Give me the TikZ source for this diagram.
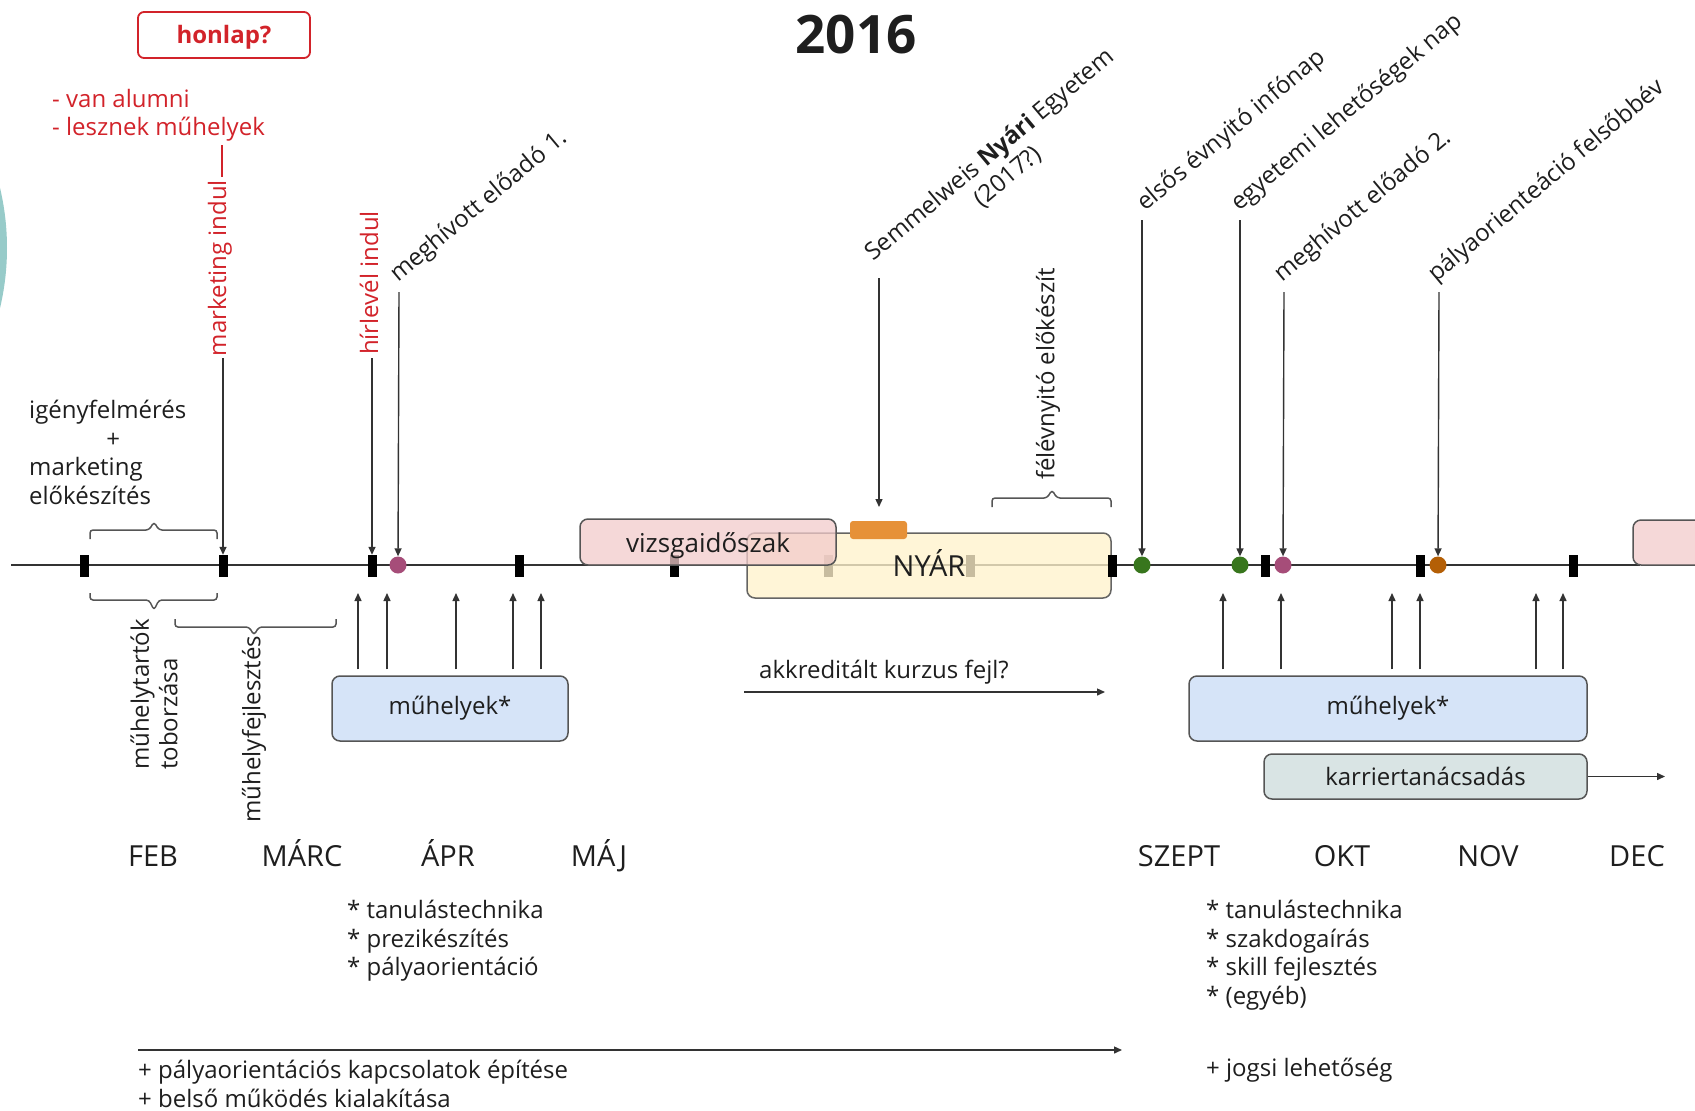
\documentclass[tikz,border=0pt]{standalone}
\usepackage{fontspec}
\setmainfont{Open Sans}
\usetikzlibrary{arrows.meta}
\definecolor{ink}{HTML}{1E1E1E}
\definecolor{lineg}{HTML}{333333}
\definecolor{boxline}{HTML}{555555}
\definecolor{redt}{HTML}{D2232A}
\definecolor{teal}{HTML}{97CBC9}
\definecolor{nyar}{HTML}{FFF2CC}
\definecolor{vizs}{HTML}{F2CBCB}
\definecolor{blueb}{HTML}{D6E4F8}
\definecolor{karr}{HTML}{D9E4E4}
\definecolor{orng}{HTML}{E69138}
\definecolor{dgreen}{HTML}{38761D}
\definecolor{dpink}{HTML}{A64D79}
\definecolor{dorange}{HTML}{B45F06}
\begin{document}
\begin{tikzpicture}[x=1pt,y=-1pt,
  every node/.style={inner sep=0pt, text=ink},
  body/.style={font=\fontsize{24}{28.5}\selectfont},
  month/.style={font=\fontsize{29}{34}\selectfont, anchor=base},
  redtext/.style={body, text=redt},
  arr/.style={draw=lineg, line width=1.4pt, -{Triangle[length=8pt,width=7pt]}},
  tick/.style={rectangle, fill=black, minimum width=9pt, minimum height=22pt},
  dot/.style={circle, minimum size=17pt},
  box/.style={draw=boxline, line width=1.5pt, rounded corners=8pt},
  brace/.style={draw=boxline, line width=1.5pt, rounded corners=3pt}
]
\useasboundingbox (0,0) rectangle (1695,1111);
\begin{scope}
  \clip (0,0) rectangle (1695,1111);
  \fill[teal] (-253,248) circle[radius=260pt];
\end{scope}

% title
\node[font=\fontsize{53}{60}\selectfont\bfseries, anchor=base] (title) at (856,53) {2016};

% honlap box and red notes
\node[draw=redt, line width=1.8pt, rounded corners=6pt, minimum width=172pt, minimum height=46pt,
      font=\fontsize{24}{28}\selectfont\bfseries, text=redt] (honlap) at (224,35) {\raisebox{-8pt}[0pt][0pt]{honlap?}};
\node[redtext, align=left, anchor=north west] (notes) at (52,89) {- van alumni\\- lesznek műhelyek};

% timeline
\coordinate (tlL) at (11,565);
\coordinate (tlR) at (1640,565);
\draw[lineg, line width=2pt] (tlL) -- (tlR);

\foreach \n/\x in {t1/84,t2/223,t3/372,t4/519,t5/674,t6/828,t7/970,t9/1265,t10/1420,t11/1573}
  \node[tick] (\n) at (\x,566) {};

% summer box
\node[box, fill=nyar, fill opacity=.78, draw opacity=.9, text opacity=1, minimum width=364pt, minimum height=65pt,
      font=\fontsize{29}{34}\selectfont] (nyar) at (929,565.5) {\raisebox{-11pt}[0pt][0pt]{NYÁR}};
\node[tick] (t8) at (1112,566) {};
% exam periods
\node[box, fill=vizs, fill opacity=.75, text opacity=1, minimum width=256pt, minimum height=46pt,
      font=\fontsize{26}{30}\selectfont] (vizsga) at (708,542) {\raisebox{-10pt}[0pt][0pt]{vizsgaidőszak}};
\node[box, fill=vizs, fill opacity=.75, minimum width=100pt, minimum height=45pt] (vizsga2) at (1683,542.5) {};
\node[fill=orng, rounded corners=3pt, minimum width=57pt, minimum height=18pt] (orect) at (878.5,530) {};

% dots
\node[dot, fill=dpink] (d1) at (398,565) {};
\node[dot, fill=dgreen] (d2) at (1142,565) {};
\node[dot, fill=dgreen] (d3) at (1240,565) {};
\node[dot, fill=dpink] (d4) at (1283,565) {};
\node[dot, fill=dorange] (d5) at (1438,565) {};

% upper labels
\node[redtext, rotate=90] (mi) at (220,268) {marketing indul};
\node[redtext, rotate=90] (hi) at (369,283) {hírlevél indul};
\node[body, rotate=40, anchor=base west] (me1) at (398,283) {meghívott előadó 1.};
\node[body, rotate=40, align=center] (sem) at (999,166) {Semmelweis \textbf{Nyári} Egyetem\\(2017?)};
\node[body, rotate=90] (fel) at (1048,374) {félévnyitó előkészít};
\node[body, rotate=40, anchor=base west] (els) at (1145,212) {elsős évnyitó infónap};
\node[body, rotate=40, anchor=base west] (egy) at (1239,212) {egyetemi lehetőségek nap};
\node[body, rotate=40, anchor=base west] (me2) at (1282,283) {meghívott előadó 2.};
\node[body, rotate=40, anchor=base west] (pal) at (1436,283) {pályaorienteáció felsőbbév};

% connectors from labels down to timeline
\coordinate (rl1) at (222,145);
\coordinate (rl2) at (222,177);
\draw[redt, line width=1.4pt] (rl1) -- (rl2);
\coordinate (a1) at (223,358);
\coordinate (a2) at (372,358);
\coordinate (a3) at (399,292);
\coordinate (a4) at (879,278);
\coordinate (a4e) at (879,507);
\coordinate (a5) at (1142,220);
\coordinate (a6) at (1240,220);
\coordinate (a7) at (1284,292);
\coordinate (a8) at (1439,292);
\draw[arr] (a1) -- (t2);
\draw[arr] (a2) -- (t3);
\draw[arr] (a3) -- (d1);
\draw[arr] (a4) -- (a4e);
\draw[arr] (a5) -- (d2);
\draw[arr] (a6) -- (d3);
\draw[arr] (a7) -- (d4);
\draw[arr] (a8) -- (d5);

% left texts and braces
\node[body, align=left, anchor=north west] (igeny) at (29,400)
  {igényfelmérés\\\makebox[168pt]{+}\\marketing\\előkészítés};
\draw[brace] (90,539) -- (90,530) -- (149,530) -- (154,522) -- (159,530) -- (217,530) -- (217,539);
\draw[brace] (90,593) -- (90,600) -- (149,600) -- (154,610) -- (159,600) -- (217,600) -- (217,593);
\draw[brace] (175,619) -- (175,627) -- (249,627) -- (254,635) -- (259,627) -- (336,627) -- (336,619);
\draw[brace] (992,507) -- (992,498) -- (1047,498) -- (1052,490) -- (1057,498) -- (1111,498) -- (1111,507);
\node[body, rotate=90, align=left, anchor=west] (tob) at (154,770) {műhelytartók\\toborzása};
\node[body, rotate=90] (fejl) at (254,729) {műhelyfejlesztés};

% workshops
\node[box, fill=blueb, minimum width=236pt, minimum height=65pt, body] (m1) at (450,708.5) {műhelyek*};
\node[box, fill=blueb, minimum width=398pt, minimum height=65pt, body] (m2) at (1388,708.5) {műhelyek*};
\node[box, fill=karr, minimum width=323pt, minimum height=45pt, body] (kar) at (1425.5,776.5) {karriertanácsadás};
\foreach \x [count=\i] in {358,387,456,513,541}{
  \coordinate (ul\i) at (\x,593);
  \draw[arr] ([yshift=6pt]m1.north -| ul\i) -- (ul\i);
}
\foreach \x [count=\i] in {1223,1281,1392,1420,1536,1563}{
  \coordinate (ur\i) at (\x,593);
  \draw[arr] ([yshift=6pt]m2.north -| ur\i) -- (ur\i);
}
\coordinate (kend) at (1665,776.5);
\draw[arr] (kar) -- (kend);

% accredited course
\node[body, anchor=base west] (akk) at (759,678) {akkreditált kurzus fejl?};
\coordinate (k1) at (744,692);
\coordinate (k2) at (1105,692);
\draw[arr] (k1) -- (k2);

% months
\node[month] (feb) at (153,866) {FEB};
\node[month] (marc) at (302,866) {MÁRC};
\node[month] (apr) at (448,866) {ÁPR};
\node[month] (maj) at (599,866) {MÁJ};
\node[month] (szept) at (1179,866) {SZEPT};
\node[month] (okt) at (1342,866) {OKT};
\node[month] (nov) at (1488,866) {NOV};
\node[month] (dec) at (1637,866) {DEC};

% lists
\node[body, align=left, anchor=north west] (list1) at (347,900)
  {* tanulástechnika\\* prezikészítés\\* pályaorientáció};
\node[body, align=left, anchor=north west] (list2) at (1206,900)
  {* tanulástechnika\\* szakdogaírás\\* skill fejlesztés\\* (egyéb)};
\node[body, anchor=base west] (jogsi) at (1206,1076) {+ jogsi lehetőség};
\coordinate (b1) at (138,1050);
\coordinate (b2) at (1122,1050);
\draw[arr] (b1) -- (b2);
\node[body, align=left, anchor=north west] (bottom) at (138,1060)
  {+ pályaorientációs kapcsolatok építése\\+ belső működés kialakítása};
\end{tikzpicture}
\end{document}
